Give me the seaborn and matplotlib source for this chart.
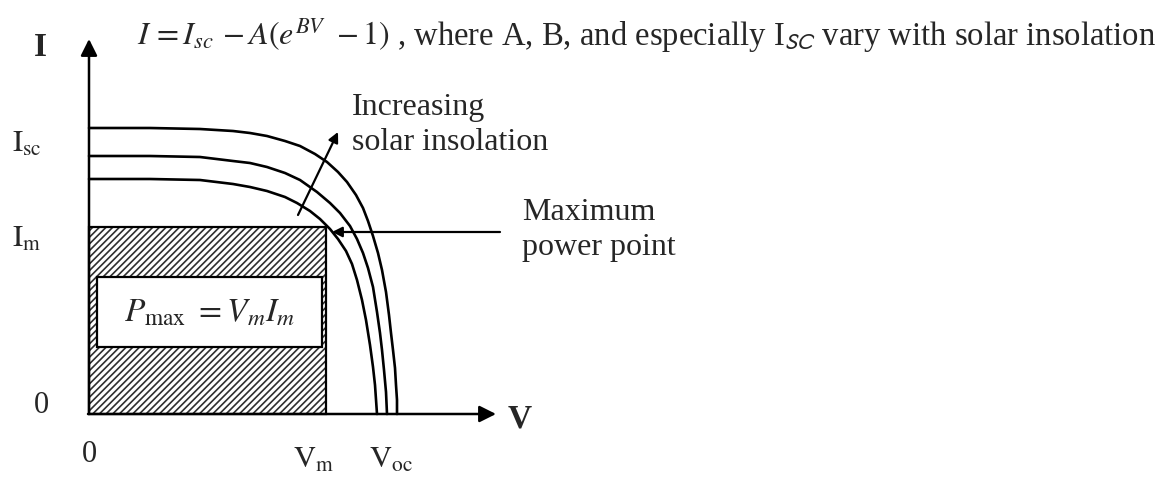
import numpy as np
import pandas as pd
import matplotlib
matplotlib.use('Agg')
import matplotlib.pyplot as plt
from matplotlib.patches import Rectangle
import seaborn as sns

# I-V curves (arbitrary units, 1 unit = 100 px)
v_high = [0, 0.61, 1.11, 1.44, 1.61, 1.78, 1.96, 2.11, 2.26, 2.38, 2.49, 2.58, 2.67, 2.74, 2.79,
          2.84, 2.89, 2.93, 2.97, 3.00, 3.02, 3.04, 3.06, 3.07, 3.08, 3.08]
i_high = [2.86, 2.86, 2.85, 2.83, 2.81, 2.78, 2.73, 2.68, 2.60, 2.52, 2.42, 2.32, 2.19, 2.06, 1.93,
          1.78, 1.61, 1.44, 1.22, 0.99, 0.81, 0.64, 0.46, 0.29, 0.14, 0.0]

v_mid = [0, 0.61, 1.11, 1.44, 1.61, 1.78, 1.96, 2.11, 2.28, 2.41, 2.51, 2.61, 2.68, 2.74, 2.79,
         2.84, 2.88, 2.91, 2.93, 2.95, 2.97, 2.98]
i_mid = [2.58, 2.58, 2.57, 2.53, 2.51, 2.47, 2.41, 2.34, 2.22, 2.11, 2.01, 1.88, 1.75, 1.61, 1.46,
         1.27, 1.02, 0.81, 0.64, 0.44, 0.22, 0.0]

v_low = [0, 0.61, 1.11, 1.44, 1.61, 1.78, 1.96, 2.08, 2.21, 2.31, 2.41, 2.49, 2.57, 2.63, 2.68,
         2.73, 2.77, 2.81, 2.84, 2.86, 2.88]
i_low = [2.35, 2.35, 2.34, 2.30, 2.27, 2.23, 2.17, 2.11, 2.03, 1.95, 1.85, 1.75, 1.63, 1.50, 1.34,
         1.14, 0.94, 0.69, 0.47, 0.29, 0.0]

curve_names = ['high', 'mid', 'low']

# maximum power point and axis extents
v_m, i_m = 2.37, 1.87
v_axis_end, i_axis_end = 4.07, 3.75

# tick labels (text positions next to the axes)
y_tick_labels = [r'$\mathrm{I_{sc}}$', r'$\mathrm{I_m}$']
y_tick_values = [2.62, 1.67]
x_tick_labels = [r'$\mathrm{V_m}$', r'$\mathrm{V_{oc}}$']
x_tick_values = [2.25, 3.02]

sns.set_theme(style='white')
plt.rcParams['font.family'] = ['Liberation Serif', 'DejaVu Serif']
plt.rcParams['mathtext.fontset'] = 'stix'
plt.rcParams['hatch.linewidth'] = 1.2

df = pd.concat([
    pd.DataFrame({'V': v, 'I': i, 'curve': name})
    for v, i, name in zip([v_high, v_mid, v_low], [i_high, i_mid, i_low], curve_names)
])

fig = plt.figure(figsize=(11.67, 4.79), dpi=100)
ax = fig.add_axes([0, 0, 1, 1])
ax.set_xlim(-0.89, 10.78)
ax.set_ylim(-0.65, 4.14)
ax.axis('off')

# hatched max power rectangle
ax.fill_between([0, v_m], 0, i_m, facecolor='white', edgecolor='#2e2e2e',
                hatch='/////', linewidth=0, zorder=1)
ax.add_patch(Rectangle((0, 0), v_m, i_m, fill=False, edgecolor='black', lw=1.6, zorder=2))

# white label box
ax.add_patch(Rectangle((0.08, 0.67), 2.25, 0.70, facecolor='white', edgecolor='black', lw=1.6, zorder=3))
ax.text((0.08 + 2.33) / 2, 0.92, r'$P_{\mathrm{max}}\ = V_m I_m$', fontsize=24,
        ha='center', va='baseline', zorder=4)

sns.lineplot(data=df, x='V', y='I', hue='curve', units='curve', estimator=None, sort=False,
             palette=['black'] * 3, linewidth=1.9, legend=False, ax=ax, zorder=3)

# axes arrows
axis_arrow = dict(arrowstyle='-|>', mutation_scale=25, lw=1.8, color='black',
                  shrinkA=0, shrinkB=0)
ax.annotate('', xy=(0, i_axis_end), xytext=(0, 0), arrowprops=axis_arrow)
ax.annotate('', xy=(v_axis_end, 0), xytext=(-0.01, 0), arrowprops=axis_arrow)
ax.text(-0.49, 3.58, 'I', fontsize=24, fontweight='bold', ha='center', va='baseline')
ax.text(4.31, -0.14, 'V', fontsize=24, fontweight='bold', ha='center', va='baseline')

for lab, val in zip(y_tick_labels, y_tick_values):
    ax.text(-0.77, val, lab, fontsize=22, ha='left', va='baseline')
ax.text(-0.48, 0.01, '0', fontsize=22, ha='center', va='baseline')
ax.text(0.0, -0.48, '0', fontsize=22, ha='center', va='baseline')
for lab, val in zip(x_tick_labels, x_tick_values):
    ax.text(val, -0.54, lab, fontsize=22, ha='center', va='baseline')

# small arrows
small_arrow = dict(arrowstyle='-|>', mutation_scale=15, lw=1.6, color='black',
                   shrinkA=0, shrinkB=0)
ax.annotate('', xy=(2.49, 2.82), xytext=(2.09, 1.99), arrowprops=small_arrow)
ax.annotate('', xy=(2.43, 1.82), xytext=(4.11, 1.82), arrowprops=small_arrow)

ax.text(2.63, 2.99, 'Increasing', fontsize=23, ha='left', va='baseline')
ax.text(2.63, 2.64, 'solar insolation', fontsize=23, ha='left', va='baseline')
ax.text(4.33, 1.94, 'Maximum', fontsize=23, ha='left', va='baseline')
ax.text(4.33, 1.59, 'power point', fontsize=23, ha='left', va='baseline')

# equation line
ax.text(0.48, 3.69, r'$I\, =I_{sc}\, -A(e^{BV}\ -1)$', fontsize=23, ha='left', va='baseline')
ax.text(3.00, 3.69, r' , where A, B, and especially I$_{\mathsf{SC}}$ vary with solar insolation',
        fontsize=23.5, ha='left', va='baseline')

fig.savefig('out.png', dpi=100, facecolor='white')
